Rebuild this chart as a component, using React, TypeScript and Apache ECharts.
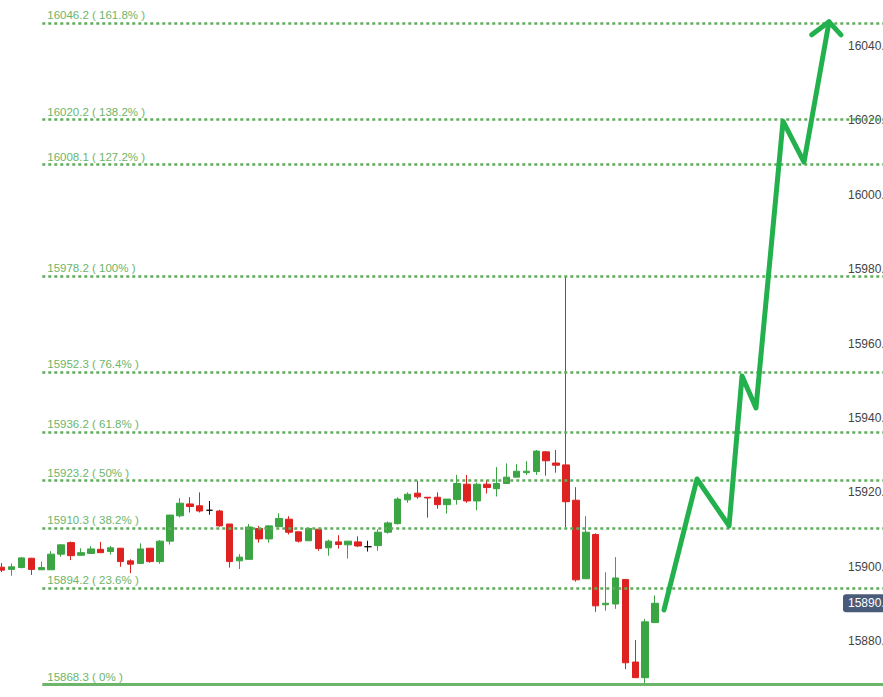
import React, { useEffect, useRef } from "react";
import * as echarts from "echarts";

// ---- Candles (open, close, low, high) ----
const opens = [
  15899.9, 15899.3, 15899.8, 15902.3, 15899.2, 15899.2, 15903.4, 15906.5, 15903.1, 15903.6,
  15904.7, 15904.1, 15905.0, 15901.6, 15900.9, 15905.0, 15901.4, 15906.9, 15913.7, 15916.9,
  15916.4, 15915.2, 15915.0, 15911.5, 15901.6, 15902.0, 15910.3, 15907.5, 15910.8, 15912.8,
  15909.4, 15907.0, 15910.1, 15905.1, 15906.7, 15905.9, 15906.7, 15905.4, 15905.7, 15909.3,
  15911.6, 15918.0, 15919.8, 15918.7, 15918.7, 15916.7, 15918.1, 15922.2, 15917.7, 15922.2,
  15921.0, 15922.4, 15924.1, 15925.3, 15925.6, 15930.9, 15927.9, 15927.4, 15917.9, 15896.8,
  15908.7, 15889.8, 15890.0, 15896.6, 15874.4, 15870.2, 15885.0,
];
const closes = [
  15899.1, 15900.0, 15902.4, 15899.3, 15899.8, 15903.4, 15905.9, 15903.0, 15903.8, 15904.8,
  15903.8, 15905.1, 15901.4, 15900.7, 15904.8, 15901.4, 15906.9, 15913.9, 15917.1, 15916.2,
  15915.0, 15915.2, 15911.0, 15901.4, 15902.6, 15910.7, 15907.5, 15911.0, 15913.0, 15909.3,
  15906.9, 15910.3, 15904.9, 15906.9, 15906.0, 15906.9, 15905.6, 15905.4, 15909.3, 15911.8,
  15918.2, 15919.5, 15918.8, 15918.5, 15916.7, 15918.2, 15922.4, 15917.7, 15922.2, 15921.3,
  15922.4, 15924.1, 15925.7, 15925.7, 15931.1, 15928.5, 15927.3, 15917.5, 15896.5, 15909.3,
  15889.5, 15890.2, 15897.0, 15874.2, 15870.2, 15885.2, 15890.2,
];
const lows = [
  15898.6, 15897.6, 15899.6, 15897.8, 15899.2, 15899.2, 15902.7, 15901.8, 15903.1, 15903.6,
  15903.8, 15903.3, 15900.0, 15898.3, 15900.9, 15901.1, 15900.8, 15906.0, 15913.3, 15914.6,
  15914.6, 15914.0, 15910.8, 15899.8, 15899.4, 15902.0, 15906.5, 15906.5, 15910.8, 15908.7,
  15906.5, 15907.0, 15904.3, 15903.0, 15904.9, 15902.2, 15905.3, 15904.1, 15904.3, 15908.9,
  15911.4, 15917.2, 15918.3, 15913.2, 15915.6, 15914.3, 15916.7, 15917.2, 15915.2, 15919.7,
  15918.9, 15922.4, 15924.1, 15924.7, 15924.7, 15924.5, 15925.3, 15910.6, 15896.0, 15896.8,
  15887.9, 15888.2, 15888.7, 15872.5, 15870.2, 15868.3, 15885.0,
];
const highs = [
  15901.0, 15900.9, 15902.6, 15902.4, 15901.4, 15904.2, 15906.0, 15906.8, 15905.0, 15905.6,
  15906.7, 15905.6, 15905.0, 15902.0, 15906.3, 15905.0, 15907.2, 15914.0, 15918.5, 15918.7,
  15920.0, 15917.7, 15915.3, 15911.5, 15903.4, 15911.5, 15911.0, 15911.2, 15914.4, 15913.6,
  15909.4, 15910.3, 15910.1, 15907.3, 15908.5, 15906.9, 15908.2, 15907.0, 15910.1, 15912.2,
  15918.7, 15920.0, 15923.1, 15918.7, 15920.0, 15918.2, 15924.7, 15924.7, 15922.6, 15923.3,
  15926.8, 15927.8, 15927.6, 15928.4, 15931.4, 15931.1, 15931.4, 15978.2, 15921.4, 15913.6,
  15909.0, 15898.5, 15902.6, 15896.6, 15880.3, 15886.0, 15892.3,
];

// ---- Fibonacci levels ----
const fibLevels = [15868.3, 15894.2, 15910.3, 15923.2, 15936.2, 15952.3, 15978.2, 16008.1, 16020.2, 16046.2];
const fibPercents = ["0%", "23.6%", "38.2%", "50%", "61.8%", "76.4%", "100%", "127.2%", "138.2%", "161.8%"];

// ---- Projection arrow (x in bar-slot units) ----
const arrowX = [67.4, 70.73, 73.97, 75.28, 76.69, 79.42, 81.54, 84.07];
const arrowY = [15888.4, 15923.6, 15911.0, 15951.3, 15942.7, 16019.8, 16008.8, 16046.5];
const arrowHeadX = [82.32, 84.07, 85.28];
const arrowHeadY = [16043.0, 16046.5, 16043.0];

// ---- Axis ----
const yTicks = [15880, 15900, 15920, 15940, 15960, 15980, 16000, 16020, 16040];
const lastPrice = 15890.2;
const Y_MIN = 15865.0;
const Y_MAX = 16052.37;
const SLOTS = 90;
const FIB_START = 4.6;

const categories = Array.from({ length: SLOTS }, (_, i) => String(i));

export default function App() {
  const ref = useRef<HTMLDivElement>(null);
  useEffect(() => {
    if (!ref.current) return;
    const chart = echarts.init(ref.current, undefined, { renderer: "svg" });
    const candleData = opens.map((o, i) => [o, closes[i], lows[i], highs[i]]);
    const green = "#3ba443";
    const red = "#de2222";
    const fibColor = "#5fac5b";
    const font = "Arial, 'Liberation Sans', sans-serif";
    const axisLabelBase = {
      color: "#444",
      fontSize: 12,
      fontFamily: font,
      margin: 8,
    };
    const option: any = {
      animation: false,
      backgroundColor: "#ffffff",
      grid: {
        left: -3.25,
        right: -4.75,
        top: 0,
        bottom: 0,
        containLabel: false,
        outerBoundsMode: "none",
      },
      xAxis: [
        { type: "category", data: categories, show: false, boundaryGap: true },
        { type: "value", min: 0, max: SLOTS, show: false },
      ],
      yAxis: [
        {
          type: "value",
          position: "right",
          min: Y_MIN,
          max: Y_MAX,
          offset: -47.75,
          axisLine: { show: false },
          axisTick: { show: false },
          splitLine: { show: false },
          axisLabel: {
            ...axisLabelBase,
            customValues: yTicks,
            formatter: (v: number) => v.toFixed(1),
          },
        },
        {
          type: "value",
          position: "right",
          min: Y_MIN,
          max: Y_MAX,
          offset: -52.75,
          axisLine: { show: false },
          axisTick: { show: false },
          splitLine: { show: false },
          axisLabel: {
            ...axisLabelBase,
            color: "#ffffff",
            customValues: [lastPrice],
            formatter: (v: number) => v.toFixed(1),
            backgroundColor: "#4a5b7a",
            borderRadius: 3,
            padding: [3, 8, 3, 5],
          },
        },
      ],
      series: [
        {
          type: "candlestick",
          xAxisIndex: 0,
          yAxisIndex: 0,
          data: candleData,
          barWidth: 7,
          z: 2,
          itemStyle: {
            color: green,
            color0: red,
            borderColor: green,
            borderColor0: red,
            borderColorDoji: "#111111",
            borderWidth: 1,
          },
        },
        {
          type: "line",
          xAxisIndex: 1,
          yAxisIndex: 0,
          data: [[FIB_START, fibLevels[0]]],
          symbol: "none",
          lineStyle: { opacity: 0 },
          z: 3,
          markLine: {
            silent: true,
            symbol: ["none", "none"],
            animation: false,
            label: {
              show: true,
              position: "insideStartTop",
              color: "#6db56a",
              fontSize: 11.5,
              fontFamily: font,
              distance: [5, 2],
            },
            data: fibLevels.map((lv, i) => [
              {
                coord: [FIB_START, lv],
                lineStyle:
                  i === 0
                    ? { color: "#6db56a", width: 3, type: "solid" }
                    : { color: fibColor, width: 2.6, type: [3, 3] },
                label: { formatter: `${lv.toFixed(1)} ( ${fibPercents[i]} )` },
              },
              { coord: [SLOTS, lv] },
            ]),
          },
        },
        {
          type: "line",
          xAxisIndex: 1,
          yAxisIndex: 0,
          data: arrowX.map((x, i) => [x, arrowY[i]]),
          symbol: "none",
          z: 5,
          lineStyle: { color: "#22b14c", width: 5, cap: "round", join: "round" },
        },
        {
          type: "line",
          xAxisIndex: 1,
          yAxisIndex: 0,
          data: arrowHeadX.map((x, i) => [x, arrowHeadY[i]]),
          symbol: "none",
          z: 5,
          lineStyle: { color: "#22b14c", width: 5, cap: "round", join: "round" },
        },
      ],
    };
    chart.setOption(option);
    return () => chart.dispose();
  }, []);
  return (
    <div
      ref={ref}
      style={{ position: "fixed", left: 0, top: 0, width: 883, height: 697, background: "#fff" }}
    />
  );
}
